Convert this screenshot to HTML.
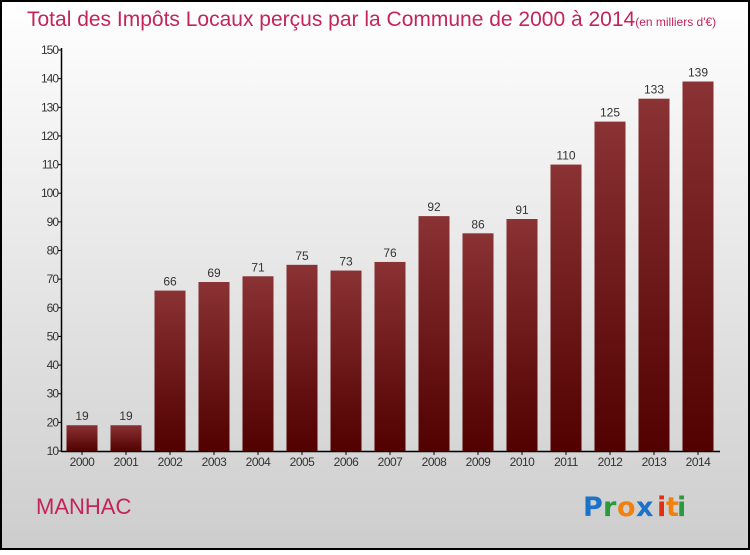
<!DOCTYPE html>
<html><head><meta charset="utf-8"><style>
body{margin:0;width:750px;height:550px;overflow:hidden;font-family:"Liberation Sans",sans-serif}
</style></head><body>
<svg id="chart" width="750" height="550" xmlns="http://www.w3.org/2000/svg">
<defs>
<linearGradient id="bg" x1="0" y1="0" x2="0" y2="1"><stop offset="0" stop-color="#ffffff"/><stop offset="1" stop-color="#cdcdcd"/></linearGradient>
<linearGradient id="bar" x1="0" y1="0" x2="0" y2="1"><stop offset="0" stop-color="#8a3234"/><stop offset="1" stop-color="#520000"/></linearGradient>
</defs>
<rect x="1" y="1" width="748" height="548" fill="url(#bg)" stroke="#000" stroke-width="2"/>
<text x="27" y="26" font-size="21" fill="#c4245a" font-weight="300">Total des Impôts Locaux perçus par la Commune de 2000 à 2014<tspan font-size="12">(en milliers d'€)</tspan></text>
<g id="axes"></g><g id="bars"></g>
<text x="36" y="514" font-size="22" fill="#c4245a">MANHAC</text>
<g font-size="27" font-family="'DejaVu Sans',sans-serif" font-weight="bold">
<text x="583" y="516" fill="#1a73c8">P</text><text x="603" y="516" fill="#2a9a3a">r</text><text x="617" y="516" fill="#f08010">o</text><text x="636" y="516" fill="#1a73c8">x</text><text x="657" y="516" fill="#e03010">i</text><text x="666" y="516" fill="#f08010">t</text><text x="677" y="516" fill="#2a9a3a">i</text>
</g>
</svg>
<script>
const years=["2000","2001","2002","2003","2004","2005","2006","2007","2008","2009","2010","2011","2012","2013","2014"];
const values=[19,19,66,69,71,75,73,76,92,86,91,110,125,133,139];
const yTicks=[10,20,30,40,50,60,70,80,90,100,110,120,130,140,150];
const NS="http://www.w3.org/2000/svg";
const y=v=>451-(v-10)*(401/140);
const x=i=>82+i*44;
const ax=document.getElementById('axes'),bg=document.getElementById('bars');
function mk(t,a,p){const e=document.createElementNS(NS,t);for(const k in a)e.setAttribute(k,a[k]);p.appendChild(e);return e;}
let l=mk('line',{x1:61.5,y1:48,x2:61.5,y2:451.5,stroke:'#000','stroke-width':1.5},ax);


l=mk('line',{x1:61,y1:451.5,x2:720,y2:451.5,stroke:'#000','stroke-width':1.5},ax);


yTicks.forEach(v=>{
 const tk=mk('line',{x1:58,x2:62,y1:y(v),y2:y(v),stroke:'#000'},ax);
 
 
 const t=mk('text',{x:58,y:y(v)+4,'text-anchor':'end','font-size':12,fill:'#333','letter-spacing':'-1'},ax);
 t.textContent=v;
 
 
});
years.forEach((yr,i)=>{
 const r=mk('rect',{x:x(i)-15.5,y:y(values[i]),width:31,height:451-y(values[i]),fill:'url(#bar)'},bg);
 
 
 const tk=mk('line',{x1:x(i),x2:x(i),y1:451,y2:455,stroke:'#000'},ax);
 
 
 const t=mk('text',{x:x(i),y:466,'text-anchor':'middle','font-size':12,fill:'#333','letter-spacing':'-0.5'},ax);
 t.textContent=yr;
 
 
 const v=mk('text',{x:x(i),y:y(values[i])-5,'text-anchor':'middle','font-size':12,fill:'#333'},bg);
 v.textContent=values[i];
 
 
});
</script>
</body></html>
